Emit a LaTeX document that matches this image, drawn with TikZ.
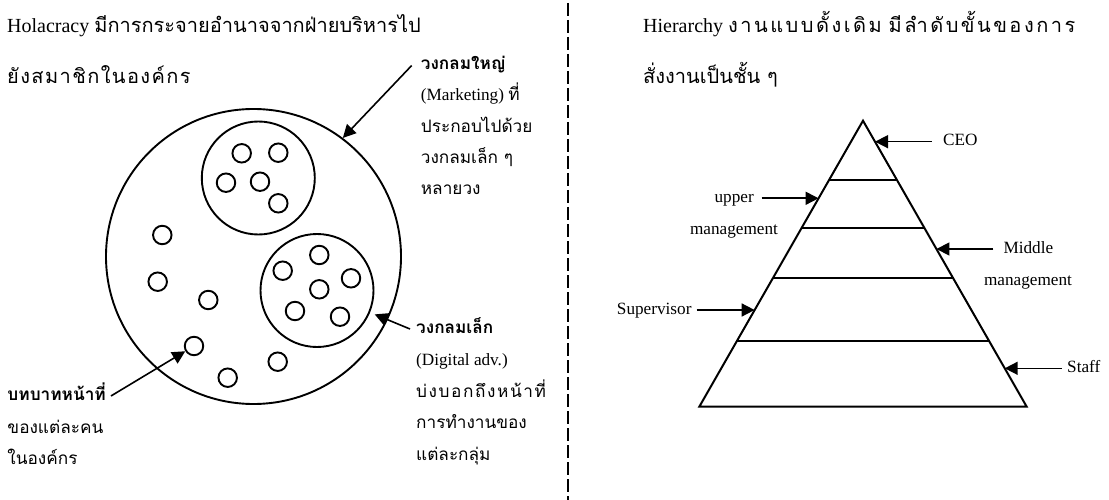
\documentclass[tikz,border=0pt]{standalone}
\usepackage{fontspec}
\setmainfont{Liberation Serif}
\newfontfamily\thai[Script=Thai]{Loma}
\usetikzlibrary{arrows.meta,calc}
\newlength\tgap
\newcommand\tg{\kern\tgap}
\begin{document}
\begin{tikzpicture}[x=1pt,y=-1pt,
  ttl/.style={inner sep=0pt,anchor=west,font=\fontsize{20}{24}\selectfont,text height=14pt,text depth=5pt},
  lbl/.style={inner sep=0pt,anchor=west,font=\fontsize{17.2}{20}\selectfont,text height=12pt,text depth=4pt},
  ring/.style={draw,circle,line width=1.9pt,inner sep=0pt,minimum size=#1},
  ring/.default=18.5pt,
  arr/.style={line width=1.6pt,-{Triangle[length=13pt,width=13pt]}},
  pyr/.style={line width=2pt,line join=miter},
  divider/.style={line width=1.8pt,dash pattern=on 13pt off 4pt}]
\useasboundingbox (0,0) rectangle (1109,500);

% titles
\node[ttl] (tL1) at (7,28) {Holacracy {\thai มีการกระจายอำนาจจากฝ่ายบริหารไป}};
\node[ttl] (tL2) at (7,79) {\thai\setlength\tgap{1.4pt}ยั\tg ง\tg ส\tg ม\tg า\tg ชิ\tg ก\tg ใ\tg น\tg อ\tg ง\tg ค์\tg ก\tg ร};
\node[ttl] (tR1) at (643,28) {Hierarchy {\thai\setlength\tgap{2.5pt}ง\tg า\tg น\tg แ\tg บ\tg บ\tg ดั้\tg ง\tg เ\tg ดิ\tg ม มี\tg ลำ\tg ดั\tg บ\tg ขั้\tg น\tg ข\tg อ\tg ง\tg ก\tg า\tg ร}};
\node[ttl] (tR2) at (643,79) {\thai สั่งงานเป็นชั้น ๆ};

% divider
\coordinate (dTop) at (568,3);
\coordinate (dBot) at (568,500);
\draw[divider] (dTop) -- (dBot);

% circles
\node[ring=295pt] (big) at (253.5,256.5) {};
\node[ring=113pt] (grpA) at (258.3,178) {};
\node[ring=113pt] (grpB) at (317,290.5) {};
\node[ring] (a1) at (241.7,153.3) {};
\node[ring] (a2) at (278.3,152.7) {};
\node[ring] (a3) at (226,182.7) {};
\node[ring] (a4) at (260,181.7) {};
\node[ring] (a5) at (278.3,203.3) {};
\node[ring] (b1) at (319.3,255) {};
\node[ring] (b2) at (282.7,270.7) {};
\node[ring] (b3) at (351,278.3) {};
\node[ring] (b4) at (319.3,289.3) {};
\node[ring] (b5) at (295,311) {};
\node[ring] (b6) at (340,316.7) {};
\node[ring] (u1) at (162.3,235) {};
\node[ring] (u2) at (157.7,281.7) {};
\node[ring] (u3) at (208.3,300) {};
\node[ring] (u4) at (194,346) {};
\node[ring] (u5) at (277.7,361.7) {};
\node[ring] (u6) at (227.7,377.7) {};

% left labels
\node[lbl,inner xsep=9pt] (bigA) at (411.7,65.5) {\thai\bfseries วงกลมใหญ่};
\node[lbl] (bigB) at (420.7,96.8) {(Marketing) {\thai ที่}};
\node[lbl] (bigC) at (420.7,128.1) {\thai ประกอบไปด้วย};
\node[lbl] (bigD) at (420.7,159.4) {\thai วงกลมเล็ก ๆ};
\node[lbl] (bigE) at (420.7,190.7) {\thai หลายวง};

\node[lbl,inner xsep=6pt] (grpLA) at (410,329) {\thai\bfseries วงกลมเล็ก};
\node[lbl] (grpLB) at (416,361.6) {(Digital adv.)};
\node[lbl] (grpLC) at (416,393.2) {\thai\setlength\tgap{1.6pt}บ่\tg ง\tg บ\tg อ\tg ก\tg ถึ\tg ง\tg ห\tg น้\tg า\tg ที่};
\node[lbl] (grpLD) at (416,424.8) {\thai การทำงานของ};
\node[lbl] (grpLE) at (416,456.4) {\thai แต่ละกลุ่ม};

\node[lbl,inner xsep=5pt] (roleA) at (2.3,396) {\thai\bfseries บทบาทหน้าที่};
\node[lbl] (roleB) at (7.3,429) {\thai ของแต่ละคน};
\node[lbl] (roleC) at (7.3,460) {\thai ในองค์กร};

\draw[arr] (bigA.west) -- (big.53.5);
\draw[arr,shorten >=5pt] (grpLA.west) -- (grpB);
\draw[arr] (roleA.east) -- (u4);

% pyramid
\coordinate (apex) at (863,120.7);
\coordinate (bl) at (699.3,406.7);
\coordinate (br) at (1026.7,406.7);
\draw[pyr] (apex) -- (br) -- (bl) -- cycle;
\foreach \t in {0.2073,0.3762,0.549,0.7692}
  \draw[pyr] ($(apex)!\t!(bl)$) -- ($(apex)!\t!(br)$);

\coordinate (ceoTip) at ($(apex)!0.0734!(br)$);
\coordinate (upTip) at ($(apex)!0.2713!(bl)$);
\coordinate (midTip) at ($(apex)!0.4486!(br)$);
\coordinate (supTip) at ($(apex)!0.6619!(bl)$);
\coordinate (staffTip) at ($(apex)!0.8657!(br)$);

\node[lbl,inner xsep=11.3pt] (ceo) at (931.7,141.7) {CEO};
\node[lbl,anchor=east,inner xsep=7.7pt] (upper) at (761.7,198.3) {upper};
\node[lbl,anchor=center] (upperB) at (734,230) {management};
\node[lbl,inner xsep=10pt] (middle) at (993.3,249) {Middle};
\node[lbl,anchor=center] (middleB) at (1028,281.7) {management};
\node[lbl,anchor=east,inner xsep=5pt] (sup) at (696.7,310) {Supervisor};
\node[lbl,inner xsep=5.3pt] (staff) at (1061.7,368.3) {Staff};

\draw[arr] (ceo.west) -- (ceo.west -| ceoTip);
\draw[arr] (upper.east) -- (upper.east -| upTip);
\draw[arr] (middle.west) -- (middle.west -| midTip);
\draw[arr] (sup.east) -- (sup.east -| supTip);
\draw[arr] (staff.west) -- (staff.west -| staffTip);
\end{tikzpicture}
\end{document}
